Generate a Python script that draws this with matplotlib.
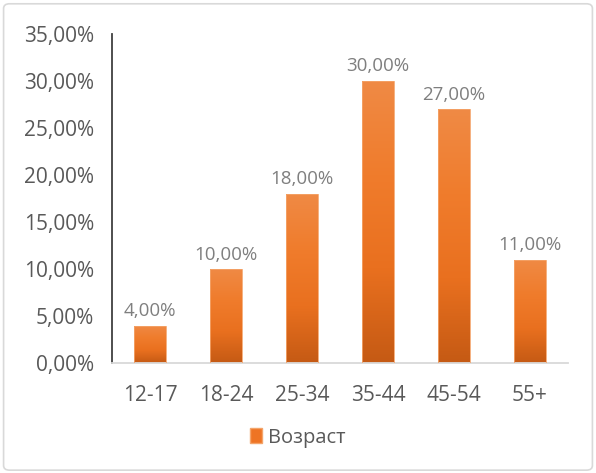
import matplotlib
matplotlib.use("Agg")
import matplotlib.pyplot as plt
import numpy as np
from matplotlib.patches import FancyBboxPatch, Patch
from matplotlib.colors import LinearSegmentedColormap

categories = ["12-17", "18-24", "25-34", "35-44", "45-54", "55+"]
values = [4.0, 10.0, 18.0, 30.0, 27.0, 11.0]
series_name = "Возраст"

plt.rcParams["font.family"] = ["Open Sans", "DejaVu Sans"]

fig = plt.figure(figsize=(5.96, 4.73), dpi=100)
fig.patches.append(FancyBboxPatch((0.006, 0.006), 0.988, 0.986,
                                  boxstyle="round,pad=0,rounding_size=0.01",
                                  transform=fig.transFigure, fc="white",
                                  ec="#d9d9d9", lw=1.2, zorder=-1))
ax = fig.add_axes([0.188, 0.232, 0.765, 0.696])
ax.set_facecolor("none")

x = np.arange(len(categories))
bars = ax.bar(x, values, width=0.42, color="none", edgecolor="#f4a46a", lw=0.6, zorder=3)

# gradient fill inside each bar
grad = LinearSegmentedColormap.from_list("g", ["#c55a14", "#e9701f", "#f07c2c", "#ef8a45"])
g = np.linspace(0, 1, 256).reshape(-1, 1)
for b in bars:
    x0, y0 = b.get_x(), b.get_y()
    w, h = b.get_width(), b.get_height()
    im = ax.imshow(g, cmap=grad, origin="lower", aspect="auto",
                   extent=[x0, x0 + w, y0, y0 + h], zorder=2)
    im.set_clip_path(b)

for xi, v in zip(x, values):
    ax.text(xi, v + 0.6, f"{v:.2f}%".replace(".", ","), ha="center", va="bottom",
            fontsize=13.5, color="#7f7f7f")

ax.set_xlim(-0.5, len(categories) - 0.5)
ax.set_ylim(0, 35)
ax.set_yticks(np.arange(0, 36, 5))
ax.set_yticklabels([f"{t:.2f}%".replace(".", ",") for t in np.arange(0, 36, 5)])
ax.set_xticks(x)
ax.set_xticklabels(categories)
ax.tick_params(axis="both", length=0, labelsize=15, colors="#595959")
ax.tick_params(axis="x", pad=16)
ax.tick_params(axis="y", pad=13)
for s in ["top", "right"]:
    ax.spines[s].set_visible(False)
ax.spines["left"].set_color("#404040")
ax.spines["left"].set_linewidth(1.3)
ax.spines["bottom"].set_color("#d9d9d9")
ax.spines["bottom"].set_linewidth(1.3)

handle = Patch(facecolor="#ee7424", edgecolor="#f4a46a")
fig.legend([handle], [series_name], loc="center", bbox_to_anchor=(0.5, 0.075),
           frameon=False, fontsize=14.5, labelcolor="#595959",
           handlelength=0.6, handleheight=0.7, handletextpad=0.3)

fig.savefig("out.png", dpi=100)
